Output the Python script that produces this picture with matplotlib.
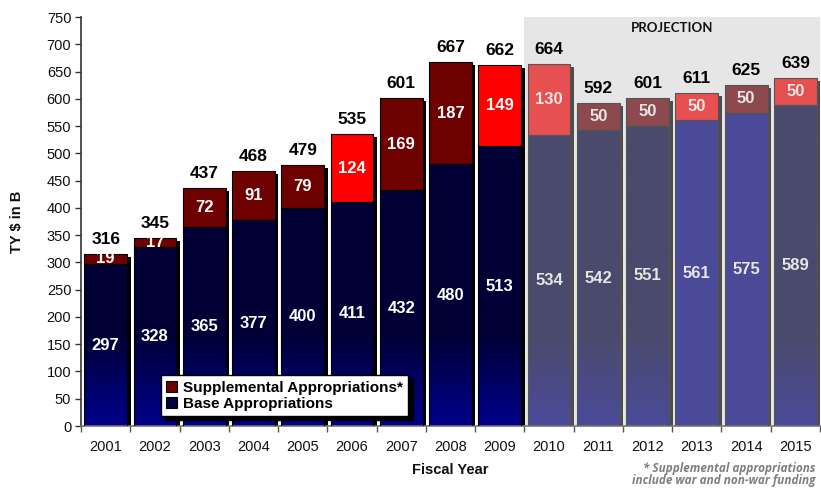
import matplotlib

matplotlib.use("Agg")
import matplotlib.pyplot as plt
import matplotlib.transforms as mtransforms
from matplotlib.colors import LinearSegmentedColormap
from matplotlib.patches import Patch
import numpy as np

# data ($B, then-year dollars)
years = [2001, 2002, 2003, 2004, 2005, 2006, 2007, 2008,
         2009, 2010, 2011, 2012, 2013, 2014, 2015]
base = [297, 328, 365, 377, 400, 411, 432, 480, 513, 534, 542, 551, 561, 575, 589]
supplemental = [19, 17, 72, 91, 79, 124, 169, 187, 149, 130, 50, 50, 50, 50, 50]
first_projection_year = 2010
# which supplemental bars are drawn in the bright red
bright_supp_years = [2006, 2009, 2010, 2013, 2015]
# projection base bars drawn in flat blue instead of the gradient
flat_base_years = [2013, 2014]

y_ticks = list(range(0, 751, 50))

plt.rcParams["font.family"] = ["Liberation Sans", "DejaVu Sans"]

fig = plt.figure(figsize=(8.21, 4.88), dpi=100)
ax = fig.add_axes([0.0987, 0.127, 0.9001, 0.838])

x = np.arange(len(years))
base = np.array(base, float)
supplemental = np.array(supplemental, float)
totals = base + supplemental
proj = np.array([y >= first_projection_year for y in years])
width = 0.87

# projection band
ax.axvspan(np.argmax(proj) - 0.5, len(years) - 0.5 + 0.1, color="#E6E6E6", zorder=0, lw=0)
ax.text((np.argmax(proj) - 0.5 + len(years) - 0.5) / 2, 730, "PROJECTION",
        ha="center", va="center", fontsize=9.5, fontweight="bold",
        family=["Lato", "DejaVu Sans"], color="#111111", zorder=6)

# drop shadows, offset right/down
shadow_off = ax.transData + mtransforms.ScaledTranslation(3.5 / 100, -3.0 / 100, fig.dpi_scale_trans)
shadow_colors = np.where(proj, "#4D4D4D", "#000000")
shadows = ax.bar(x, totals, width=width, color=shadow_colors, lw=0, zorder=1)
for p in shadows:
    p.set_transform(shadow_off)

# base bars with a vertical gradient
hist_grad = LinearSegmentedColormap.from_list("hist", ["#00008A", "#000036"])
proj_grad = LinearSegmentedColormap.from_list("proj", ["#4B4A9A", "#4A4A6C"])
ramp = np.clip(np.linspace(750, 0, 400) / 170.0, 0, 1)[:, None]
base_bars = ax.bar(x, base, width=width, color="none", lw=0, zorder=2)
for i, p in enumerate(base_bars):
    if years[i] in flat_base_years:
        p.set_facecolor("#4B4A98")
        continue
    cmap = proj_grad if proj[i] else hist_grad
    img = ax.imshow(ramp, cmap=cmap, vmin=0, vmax=1, aspect="auto",
                    extent=(x[i] - width / 2, x[i] + width / 2, 0, 750),
                    zorder=2.5, interpolation="bilinear")
    img.set_clip_path(p)

# supplemental segments
supp_colors = []
for i, yr in enumerate(years):
    bright = yr in bright_supp_years
    if proj[i]:
        supp_colors.append("#E65050" if bright else "#8C4A4E")
    else:
        supp_colors.append("#FF0000" if bright else "#6E0000")
ax.bar(x, supplemental, bottom=base, width=width, color=supp_colors, lw=0, zorder=3)

# outlines
edge_colors = np.where(proj, "#555555", "#000000")
ax.bar(x, base, width=width, color="none", edgecolor=edge_colors, lw=0.8, zorder=4)
ax.bar(x, supplemental, bottom=base, width=width, color="none",
       edgecolor=edge_colors, lw=0.8, zorder=4)

# value labels
for i in range(len(years)):
    inner = "#E6E6E6" if proj[i] else "white"
    ax.annotate(f"{totals[i]:.0f}", (x[i], totals[i]), xytext=(0, 5),
                textcoords="offset points", ha="center", va="bottom",
                fontsize=12.5, fontweight="bold", color="black", zorder=6)
    ax.text(x[i], base[i] + supplemental[i] / 2, f"{supplemental[i]:.0f}",
            ha="center", va="center", fontsize=12, fontweight="bold",
            color=inner, zorder=6)
    ax.text(x[i], base[i] / 2, f"{base[i]:.0f}", ha="center", va="center",
            fontsize=12, fontweight="bold", color=inner, zorder=6)

ax.set_xlim(-0.5, len(years) - 0.5)
ax.set_ylim(0, 750)
ax.set_yticks(y_ticks)
ax.set_xticks(x, [str(y) for y in years])
ax.set_xticks(np.arange(len(years) + 1) - 0.5, minor=True)
ax.tick_params(axis="x", which="major", length=0, pad=10, labelsize=10.5, colors="#111111")
ax.tick_params(axis="x", which="minor", length=4, width=1, color="#555555", direction="out")
ax.tick_params(axis="y", length=4, width=1, labelsize=10.5, color="#333333",
               labelcolor="#111111", pad=3)
for side in ("top", "right"):
    ax.spines[side].set_visible(False)
ax.spines["left"].set_color("#333333")
ax.spines["bottom"].set_color("#777777")
ax.spines["left"].set_linewidth(1.2)
ax.spines["bottom"].set_linewidth(1.2)

fig.text(0.548, 0.037, "Fiscal Year", ha="center", va="center",
         fontsize=10.5, fontweight="bold", color="#111111")
fig.text(0.021, 0.545, "TY $ in B", ha="center", va="center", rotation=90,
         fontsize=10.5, fontweight="bold", color="#111111")
fig.text(0.993, 0.028, "* Supplemental appropriations\ninclude war and non-war funding",
         ha="right", va="center", multialignment="right", fontsize=8.5,
         fontweight="bold", style="italic", color="#7F7F7F",
         family=["Open Sans", "DejaVu Sans"], linespacing=0.95)

handles = [
    Patch(facecolor="#6E0000", edgecolor="black", lw=0.8, label="Supplemental Appropriations*"),
    Patch(facecolor="#000040", edgecolor="black", lw=0.8, label="Base Appropriations"),
]
leg = ax.legend(handles=handles, loc="lower left", bbox_to_anchor=(0.108, 0.024),
                borderaxespad=0, frameon=True, fancybox=False, handlelength=0.7,
                handleheight=0.7, handletextpad=0.4, labelspacing=0.15,
                borderpad=0.35, prop={"weight": "bold", "size": 11},
                shadow={"color": "black", "alpha": 1.0, "ox": 3, "oy": -3})
leg.get_frame().set_edgecolor("black")
leg.get_frame().set_linewidth(1.0)
leg.get_frame().set_alpha(1)
leg.set_zorder(7)

fig.savefig("out.png", dpi=100)
